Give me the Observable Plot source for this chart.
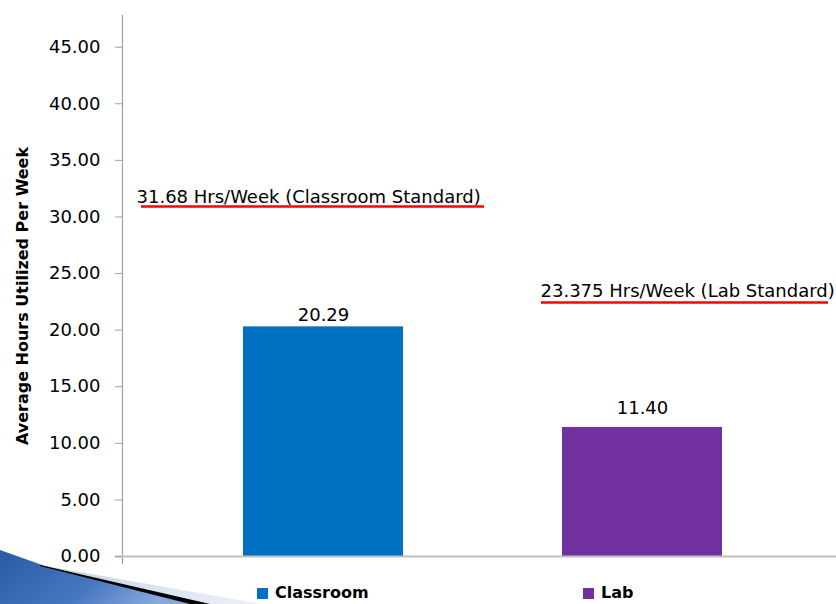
<!DOCTYPE html>
<html>
<head>
<meta charset="utf-8">
<script src="https://cdn.jsdelivr.net/npm/d3@7"></script>
<script src="https://cdn.jsdelivr.net/npm/@observablehq/plot@0.6"></script>
<style>
  html, body { margin: 0; padding: 0; background: #fff; }
  #wrap { position: relative; width: 836px; height: 604px; overflow: hidden; font-family: "DejaVu Sans", sans-serif; }
  #swoosh { position: absolute; left: 0; top: 0; }
  #chart { position: absolute; left: 0; top: 0; }
  #legend { position: absolute; left: 0; top: 574px; width: 836px; height: 30px; }
  .item { position: absolute; top: 10px; font-weight: bold; font-size: 16px; color: #000; line-height: 18px; white-space: nowrap; }
  .sw { display: inline-block; width: 11px; height: 11px; margin-right: 7px; vertical-align: -1px; }
</style>
</head>
<body>
<div id="wrap">
  <svg id="swoosh" width="836" height="604">
    <defs>
      <linearGradient id="gb" x1="0" y1="0" x2="1" y2="0.3">
        <stop offset="0" stop-color="#2a5aa4"/>
        <stop offset="0.6" stop-color="#4677c0"/>
        <stop offset="1" stop-color="#86a8da"/>
      </linearGradient>
      <linearGradient id="gl" x1="0" y1="0" x2="1" y2="0">
        <stop offset="0" stop-color="#c4d2e6"/>
        <stop offset="1" stop-color="#eef2f8"/>
      </linearGradient>
    </defs>
    <polygon points="40,565 262,604 190,604" fill="url(#gl)"/>
    <polygon points="0,550 45,566 194,604 0,604" fill="url(#gb)"/>
    <polygon points="40,565 210,604 190,604 40,566" fill="#000"/>
  </svg>
  <div id="chart"></div>
  <div id="legend"></div>
</div>
<script>
const categories = ["Classroom", "Lab"];
const values = [20.29, 11.40];
const colors = ["#0070C0", "#7030A0"];
const standardLabels = ["31.68 Hrs/Week (Classroom Standard)", "23.375 Hrs/Week (Lab Standard)"];
const standardLevels = [30.92, 22.44];
const yTicks = [0, 5, 10, 15, 20, 25, 30, 35, 40, 45];
const yTitle = "Average Hours Utilized Per Week";

const bars = categories.map((c, i) => ({category: c, value: values[i]}));
const stds = categories.map((c, i) => ({category: c, label: standardLabels[i], level: standardLevels[i]}));
const only = (arr, c) => arr.filter((d) => d.category === c);
const fmt = d3.format(".2f");

const font = "DejaVu Sans, sans-serif";

const chart = Plot.plot({
  width: 836,
  height: 574,
  marginTop: 15,
  marginBottom: 18,
  marginLeft: 122,
  marginRight: 0,
  style: {fontFamily: font, fontSize: "18px", color: "#000", background: "transparent", overflow: "visible"},
  x: {domain: categories, range: [122, 842], paddingInner: 0.5, paddingOuter: 0.3785, axis: null},
  y: {domain: [0, 47.8], axis: null},
  color: {domain: categories, range: colors},
  marks: [
    Plot.frame({anchor: "left", stroke: "#a0a0a0", strokeWidth: 1.2, insetBottom: -7}),
    Plot.barY(bars, {x: "category", y: "value", fill: "category"}),
    Plot.ruleY([0], {stroke: "#c0c0c0", strokeWidth: 2, insetLeft: -7}),
    Plot.axisY(yTicks, {
      anchor: "left",
      tickSize: 7,
      tickPadding: 15,
      stroke: "#a0a0a0",
      tickFormat: fmt,
      fontSize: 18,
      fill: "#000",
      label: null
    }),
    Plot.text([yTitle], {frameAnchor: "left", textAnchor: "middle", rotate: -90, dx: -100, dy: 10, fontSize: 16, fontWeight: "bold", fill: "#000"}),
    Plot.text(only(bars, "Classroom"), {x: "category", y: "value", text: (d) => fmt(d.value), dy: -12, fontSize: 18, fill: "#000"}),
    Plot.text(only(bars, "Lab"), {x: "category", y: "value", text: (d) => fmt(d.value), dy: -19, fontSize: 18, fill: "#000"}),
    Plot.tickY(only(stds, "Classroom"), {x: "category", y: "level", stroke: "#ff0000", strokeWidth: 2.5, insetLeft: -102, insetRight: -81}),
    Plot.tickY(only(stds, "Lab"), {x: "category", y: "level", stroke: "#ff0000", strokeWidth: 2.5, insetLeft: -21, insetRight: -106}),
    Plot.text(only(stds, "Classroom"), {x: "category", y: "level", text: "label", textAnchor: "start", dx: -187, dy: -9, fontSize: 18, fill: "#000"}),
    Plot.text(only(stds, "Lab"), {x: "category", y: "level", text: "label", textAnchor: "start", dx: -102, dy: -11, fontSize: 18, fill: "#000"})
  ]
});
document.getElementById("chart").appendChild(chart);

const legend = document.getElementById("legend");
const legendX = [257, 583];
categories.forEach((c, i) => {
  const el = document.createElement("div");
  el.className = "item";
  el.style.left = legendX[i] + "px";
  el.innerHTML = `<span class="sw" style="background:${colors[i]}"></span>${c}`;
  legend.appendChild(el);
});
</script>
</body>
</html>
